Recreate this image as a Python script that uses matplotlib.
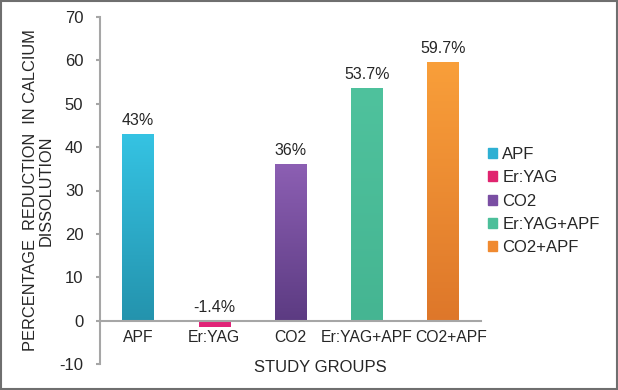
import matplotlib.pyplot as plt
import numpy as np
from matplotlib.colors import LinearSegmentedColormap
from matplotlib.patches import Rectangle

plt.rcParams['font.family'] = ['Liberation Sans', 'DejaVu Sans']
plt.rcParams['axes.unicode_minus'] = False

groups = ['APF', 'Er:YAG', 'CO2', 'Er:YAG+APF', 'CO2+APF']
values = [43.0, -1.4, 36.0, 53.7, 59.7]
value_labels = ['43%', '-1.4%', '36%', '53.7%', '59.7%']
top_colors = ['#35c3e3', '#e8287e', '#8c5fb3', '#4fc29d', '#f99f3a']
bottom_colors = ['#2493ad', '#d81f70', '#5c3b82', '#45b592', '#de772a']
legend_colors = ['#2eb0d3', '#e0246f', '#7a4ea3', '#4cbf9a', '#f08a30']
yticks = [-10, 0, 10, 20, 30, 40, 50, 60, 70]

FS = 12
TXT = '#262626'

fig = plt.figure(figsize=(6.18, 3.9), dpi=100)
ax = fig.add_axes([100 / 618, 26 / 390, 381 / 618, 347 / 390])

x = np.arange(len(groups))
bars = ax.bar(x, values, width=0.41, color='none', edgecolor='none', zorder=2)

# vertical gradient fill for each bar, clipped to the bar patch
for b, c_top, c_bot in zip(bars, top_colors, bottom_colors):
    cmap = LinearSegmentedColormap.from_list('g', [c_bot, c_top])
    x0, y0 = b.get_x(), b.get_y()
    w, h = b.get_width(), b.get_height()
    grad = np.linspace(0, 1, 256).reshape(-1, 1)
    if h < 0:
        grad = grad * 0 + 0.6
    im = ax.imshow(grad, cmap=cmap, vmin=0, vmax=1, origin='lower',
                   extent=[x0, x0 + w, min(y0, y0 + h), max(y0, y0 + h)],
                   aspect='auto', zorder=2, interpolation='bicubic')
    im.set_clip_path(b)

for xi, v, lab in zip(x, values, value_labels):
    ax.text(xi, max(v, 0) + 1.4, lab, ha='center', va='bottom',
            fontsize=11.5, color=TXT)

ax.set_xlim(-0.5, len(groups) - 0.5)
ax.set_ylim(-10, 70)
ax.set_yticks(yticks)
ax.set_xticks(x)
ax.set_xticklabels([])
ax.tick_params(axis='y', labelsize=FS, colors=TXT, length=3,
               width=1.5, color='#a6a6a6', pad=9)
ax.tick_params(axis='x', length=0)

# category labels under the zero line; the last one nudged right like the original
for i, g in enumerate(groups):
    dx = 8 if i == len(groups) - 1 else 0
    ax.annotate(g, (x[i], 0), xytext=(dx, -17), textcoords='offset pixels',
                ha='center', va='center', fontsize=11.3, color=TXT,
                annotation_clip=False)

for s in ['top', 'right']:
    ax.spines[s].set_visible(False)
ax.spines['bottom'].set_position(('data', 0))
ax.spines['bottom'].set_color('#a6a6a6')
ax.spines['bottom'].set_linewidth(1.5)
ax.spines['left'].set_color('#a6a6a6')
ax.spines['left'].set_linewidth(1.5)
ax.set_zorder(1)

ax.set_ylabel('PERCENTAGE  REDUCTION  IN CALCIUM\nDISSOLUTION',
              fontsize=11.8, color=TXT, linespacing=1.1, labelpad=4)
fig.text(320 / 618, 1 - 368 / 390, 'STUDY GROUPS', ha='center', va='center',
         fontsize=FS, color=TXT)

handles = [Rectangle((0, 0), 1, 1, color=c) for c in legend_colors]
fig.legend(handles, groups, loc='upper left',
           bbox_to_anchor=(473 / 618, 1 - 132 / 390), frameon=False,
           fontsize=FS, handlelength=0.55, handleheight=0.55,
           handletextpad=0.3, labelspacing=0.5, labelcolor=TXT)

fig.patches.append(Rectangle((0.0015, 0.0025), 0.997, 0.995,
                             transform=fig.transFigure, fill=False,
                             edgecolor='#6f6f6f', linewidth=1.5))

fig.savefig('out.png', dpi=100)
